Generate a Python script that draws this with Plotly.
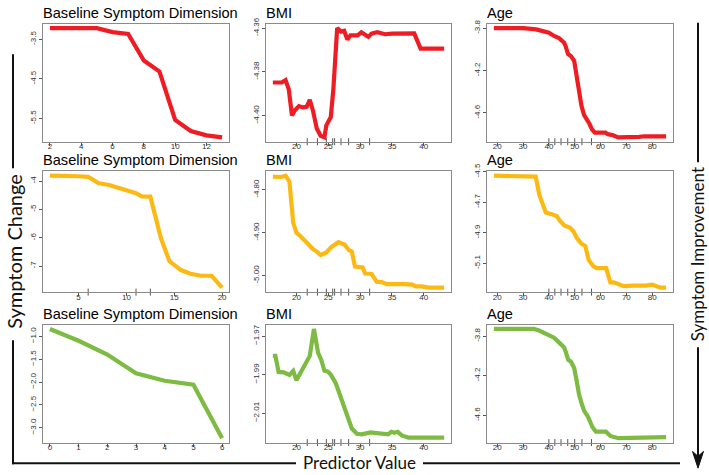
import plotly.graph_objects as go

# ---------------- data ----------------
red_base_x = [2, 3, 4, 5, 6, 7, 8, 9, 10, 11, 12, 13]
red_base_y = [-3.22, -3.22, -3.22, -3.22, -3.32, -3.37, -4.04, -4.32, -5.54, -5.82, -5.93, -5.98]

red_bmi_x = [16.3, 17.7, 18.3, 18.8, 19.3, 19.7, 20.4, 21.0, 21.6, 22.1, 22.6, 23.2, 23.8, 24.4, 24.7, 25.4,
             25.8, 26.4, 27.0, 27.5, 28.0, 28.5, 29.6, 30.2, 31.3, 31.8, 32.7, 33.9, 35.0, 35.8, 37.9, 38.5,
             39.5, 43.2]
red_bmi_y = [-4.3849, -4.3849, -4.3838, -4.3880, -4.4000, -4.3978, -4.3957, -4.3963, -4.3960, -4.3928,
             -4.3978, -4.4060, -4.4093, -4.4100, -4.4045, -4.4007, -4.3880, -4.3600, -4.3616, -4.3612,
             -4.3652, -4.3633, -4.3633, -4.3619, -4.3640, -4.3625, -4.3619, -4.3628, -4.3625, -4.3624,
             -4.3624, -4.3624, -4.3694, -4.3694]

red_age_x = [18.7, 30, 35.1, 38, 40, 42, 43.9, 45.9, 46.5, 47.4, 48.5, 49.8, 50.7, 51.7, 52.6, 53.6, 54.7,
             55.7, 56.7, 57.8, 60, 61.9, 62.8, 64.9, 66.8, 67.9, 70.1, 75, 76.9, 85.4]
red_age_y = [-3.80, -3.80, -3.812, -3.83, -3.843, -3.874, -3.893, -3.939, -3.970, -4.044, -4.062, -4.109,
             -4.254, -4.408, -4.531, -4.618, -4.655, -4.702, -4.754, -4.785, -4.785, -4.785, -4.80, -4.81,
             -4.83, -4.83, -4.826, -4.825, -4.82, -4.82]

orange_base_x = [2.0, 3.8, 5.0, 6.0, 7.1, 8.2, 9.2, 10.0, 11.0, 11.6, 12.5, 13.6, 14.5, 15.7, 16.7, 17.8,
                 18.9, 20.0]
orange_base_y = [-3.81, -3.81, -3.83, -3.85, -4.08, -4.14, -4.23, -4.32, -4.43, -4.54, -4.55, -6.01, -6.83,
                 -7.14, -7.27, -7.34, -7.34, -7.76]

orange_bmi_x = [16.3, 17.6, 18.3, 18.9, 19.5, 20.0, 20.5, 21.3, 21.8, 22.6, 23.2, 23.8, 24.7, 25.5, 26.6,
                27.1, 27.6, 28.2, 28.7, 29.2, 29.9, 30.4, 30.8, 31.8, 32.6, 33.4, 34.2, 35.5, 36.3, 37.1,
                38.2, 38.7, 39.7, 40.8, 43.2]
orange_bmi_y = [-4.769, -4.770, -4.767, -4.781, -4.877, -4.900, -4.906, -4.919, -4.925, -4.938, -4.944,
                -4.952, -4.946, -4.933, -4.922, -4.925, -4.928, -4.940, -4.944, -4.979, -4.979, -4.981,
                -4.995, -4.996, -5.014, -5.015, -5.020, -5.020, -5.018, -5.020, -5.021, -5.025, -5.025,
                -5.028, -5.028]

orange_age_x = [18.7, 24.3, 28.2, 32.7, 34.9, 36.3, 38.8, 41.1, 43.1, 44.4, 46.0, 48.2, 49.5, 50.8, 52.5,
                54.1, 55.4, 57.3, 58.6, 62.2, 63.8, 65.1, 69.0, 72.8, 77.4, 80.0, 81.9, 83.2, 85.4]
orange_age_y = [-4.526, -4.528, -4.532, -4.532, -4.532, -4.652, -4.767, -4.778, -4.792, -4.825, -4.853,
                -4.868, -4.890, -4.933, -4.970, -4.987, -5.078, -5.121, -5.132, -5.132, -5.225, -5.225,
                -5.250, -5.247, -5.247, -5.240, -5.250, -5.260, -5.260]

green_base_x = [0, 1, 2, 3, 4, 5, 6]
green_base_y = [-0.835, -1.094, -1.396, -1.806, -1.971, -2.058, -3.23]

green_bmi_x = [16.3, 16.7, 17.2, 18.0, 18.9, 19.5, 20.0, 20.6, 21.3, 22.1, 22.75, 23.4, 23.9, 24.4, 24.9,
               25.4, 26.2, 27.0, 27.5, 28.0, 28.7, 29.5, 30.3, 31.6, 32.8, 34.4, 34.9, 35.4, 35.9, 36.6,
               37.6, 39.7, 41.3, 43.2]
green_bmi_y = [-1.9802, -1.9802, -1.9886, -1.9888, -1.9902, -1.9881, -1.9929, -1.9892, -1.9841, -1.9803,
               -1.9663, -1.9786, -1.9824, -1.9880, -1.9883, -1.9900, -1.9946, -2.0019, -2.0061, -2.0120,
               -2.0180, -2.0207, -2.0210, -2.0200, -2.0205, -2.0210, -2.0197, -2.0202, -2.0197, -2.0217,
               -2.0227, -2.0230, -2.0227, -2.0227]

green_age_x = [18.7, 34.2, 36.2, 38.1, 40.1, 42.0, 44.0, 45.9, 46.6, 47.5, 48.5, 49.8, 50.7, 51.7, 52.8,
               53.7, 55.0, 56.0, 56.9, 58.2, 62.1, 63.4, 64.0, 67.0, 69.9, 75.1, 77.6, 85.4]
green_age_y = [-3.728, -3.728, -3.744, -3.767, -3.784, -3.816, -3.866, -3.915, -3.964, -4.040, -4.057,
               -4.122, -4.243, -4.391, -4.490, -4.557, -4.606, -4.665, -4.720, -4.764, -4.764, -4.797,
               -4.810, -4.830, -4.830, -4.826, -4.820, -4.820]

# rug (deciles of predictor)
bmi_rug = [21.7, 23.3, 24.7, 25.7, 26.0, 27.0, 28.2, 31.5]
age_rug = [40.0, 42.3, 44.7, 47.3, 50.0, 52.8, 56.5]
base_rug = [6.0, 11.0, 12.5]

# tick labels
t_base1 = [2, 4, 6, 8, 10, 12]
t_base2 = [5, 10, 15, 20]
t_base3 = [0, 1, 2, 3, 4, 5, 6]
t_bmi = [20, 25, 30, 35, 40]
t_age = [20, 30, 40, 50, 60, 70, 80]
y_red_base = ["-3.5", "-4.5", "-5.5"]
y_red_bmi = ["-4.36", "-4.38", "-4.40"]
y_red_age = ["-3.8", "-4.2", "-4.6"]
y_or_base = ["-4", "-5", "-6", "-7"]
y_or_bmi = ["-4.80", "-4.90", "-5.00"]
y_or_age = ["-4.5", "-4.7", "-4.9", "-5.1"]
y_gr_base = ["\u22121.0", "\u22121.5", "\u22122.0", "\u22122.5", "\u22123.0"]
y_gr_bmi = ["\u22121.97", "\u22121.99", "\u22122.01"]
y_gr_age = ["-3.8", "-4.2", "-4.6"]

panel_titles = ["Baseline Symptom Dimension", "BMI", "Age"]
outer_left = "Symptom Change"
outer_bottom = "Predictor Value"
outer_right = "Symptom Improvement"

RED, ORANGE, GREEN = "#EE1D24", "#FDB913", "#7DBB42"

W, H = 709, 475


def px(x):
    return x / W


def py(y):
    return 1 - y / H


def num(s):
    return float(s.replace("\u2212", "-"))


panels = [
    (red_base_x, red_base_y, RED, t_base1, y_red_base, None, 0),
    (red_bmi_x, red_bmi_y, RED, t_bmi, y_red_bmi, bmi_rug, 1),
    (red_age_x, red_age_y, RED, t_age, y_red_age, age_rug, 2),
    (orange_base_x, orange_base_y, ORANGE, t_base2, y_or_base, base_rug, 0),
    (orange_bmi_x, orange_bmi_y, ORANGE, t_bmi, y_or_bmi, bmi_rug, 1),
    (orange_age_x, orange_age_y, ORANGE, t_age, y_or_age, age_rug, 2),
    (green_base_x, green_base_y, GREEN, t_base3, y_gr_base, None, 0),
    (green_bmi_x, green_bmi_y, GREEN, t_bmi, y_gr_bmi, bmi_rug, 1),
    (green_age_x, green_age_y, GREEN, t_age, y_gr_age, age_rug, 2),
]

col_px = [(43, 229), (266, 451), (487, 673)]
row_px = [(16, 136), (166, 289), (322, 442)]

fig = go.Figure()
layout = dict(width=W, height=H, margin=dict(l=0, r=0, t=0, b=0), paper_bgcolor="white",
              plot_bgcolor="white", showlegend=False, annotations=[], shapes=[])

tickfont = dict(family="Liberation Sans, Arial", size=8, color="#333")

for i, (xs, ys, col, xt, yt, rug, c) in enumerate(panels):
    r = i // 3
    k = i + 1
    xa, ya = f"x{k}", f"y{k}"
    fig.add_trace(go.Scatter(x=xs, y=ys, mode="lines", line=dict(color=col, width=4.2),
                             xaxis=xa, yaxis=ya, hoverinfo="skip"))
    xmin, xmax = min(xs), max(xs)
    ymin, ymax = min(ys), max(ys)
    dx, dy = (xmax - xmin) * 0.04, (ymax - ymin) * 0.04
    xr = [xmin - dx, xmax + dx]
    yr = [ymin - dy, ymax + dy]
    if rug:
        fig.add_trace(go.Scatter(x=rug, y=[yr[0]] * len(rug), mode="markers", xaxis=xa, yaxis=ya,
                                 marker=dict(symbol="line-ns", size=5, line=dict(width=1, color="#555")),
                                 cliponaxis=False, hoverinfo="skip"))
    x0, x1 = col_px[c]
    y0, y1 = row_px[r]
    common = dict(showline=True, mirror=True, linecolor="#8a8a8a", linewidth=1, ticks="outside",
                  ticklen=3, tickwidth=1, tickcolor="#555", tickfont=tickfont, showgrid=False,
                  zeroline=False, fixedrange=True)
    layout[f"xaxis{k}"] = dict(domain=[px(x0), px(x1)], anchor=ya, range=xr, tickmode="array",
                               tickvals=xt, ticktext=[str(v) for v in xt], ticklabelstandoff=-6,
                               **common)
    layout[f"yaxis{k}"] = dict(domain=[py(y1), py(y0)], anchor=xa, range=yr, tickmode="array",
                               tickvals=[num(s) for s in yt], ticktext=yt, tickangle=-90, **common)
    layout["annotations"].append(dict(text=panel_titles[c], xref="paper", yref="paper", x=px(x0),
                                      y=py(y0), xanchor="left", yanchor="bottom", showarrow=False,
                                      xshift=-2, yshift=1,
                                      font=dict(family="Liberation Sans, Arial", size=14.6, color="black")))

# outer frame labels
lab_font = dict(family="Lato", size=17, color="#111")
layout["annotations"] += [
    dict(text=outer_left, xref="paper", yref="paper", x=px(13), y=py(248), textangle=-90,
         xshift=-13, showarrow=False, font=dict(family="Lato", size=20, color="#111")),
    dict(text=outer_bottom, xref="paper", yref="paper", x=px(359), y=py(464), yshift=-11,
         showarrow=False, font=lab_font),
    dict(text=outer_right, xref="paper", yref="paper", x=px(698), y=py(251), textangle=-90,
         xshift=12, showarrow=False, font=lab_font),
]


def seg(xa, ya, xb, yb):
    return dict(type="line", xref="paper", yref="paper", x0=px(xa), y0=py(ya), x1=px(xb), y1=py(yb),
                line=dict(color="#111", width=2))


layout["shapes"] += [
    seg(13, 47, 13, 163), seg(13, 338, 13, 464),
    seg(12, 463, 296, 463), seg(423, 463, 680, 463),
    seg(698, 15, 698, 157), seg(698, 345, 698, 458),
    dict(type="path", xref="paper", yref="paper", fillcolor="#111", line=dict(color="#111", width=1),
         path=f"M {px(692.5)},{py(451)} L {px(698)},{py(468)} L {px(703.5)},{py(451)} "
              f"L {px(698)},{py(456)} Z"),
]

fig.update_layout(**layout)
fig.write_html("out.html", config={"displayModeBar": False},
               post_script="document.body.style.margin='0';document.body.style.padding='0';"
                           "document.body.style.overflow='hidden';")
